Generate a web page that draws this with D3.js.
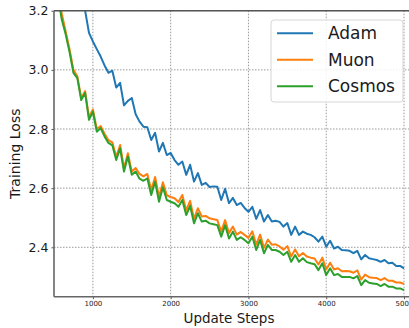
<!DOCTYPE html>
<html>
<head>
<meta charset="utf-8">
<script src="https://cdn.jsdelivr.net/npm/d3@7"></script>
<style>
  html, body { margin: 0; padding: 0; background: #fff; }
  svg { display: block; font-family: "DejaVu Sans", sans-serif; }
</style>
</head>
<body>
<svg id="chart" width="409" height="328"></svg>
<script>
// Training loss vs. update steps, logged every 50 steps from 500 to 5000
const steps = d3.range(500, 5001, 50);

const adam = [
  3.60, 3.52, 3.46, 3.40, 3.35, 3.30, 3.26, 3.23, 3.20, 3.125,
  3.096, 3.07, 3.045, 3.015, 2.99, 2.997, 2.94, 2.956, 2.88, 2.895,
  2.905, 2.85, 2.825, 2.808, 2.806, 2.763, 2.787, 2.724, 2.753, 2.712,
  2.719, 2.695, 2.679, 2.690, 2.645, 2.679, 2.622, 2.651, 2.611, 2.618,
  2.604, 2.606, 2.605, 2.560, 2.598, 2.549, 2.567, 2.543, 2.550, 2.533,
  2.520, 2.537, 2.496, 2.526, 2.487, 2.509, 2.487, 2.490, 2.486, 2.470,
  2.482, 2.442, 2.470, 2.442, 2.453, 2.446, 2.442, 2.434, 2.419, 2.436,
  2.402, 2.422, 2.396, 2.402, 2.391, 2.390, 2.388, 2.380, 2.388, 2.359,
  2.374, 2.363, 2.360, 2.357, 2.351, 2.357, 2.346, 2.348, 2.337, 2.337,
  2.329
];

const muon = [
  3.42, 3.27, 3.19, 3.13, 3.07, 3.00, 2.978, 2.905, 2.928, 2.840,
  2.866, 2.800, 2.810, 2.784, 2.762, 2.755, 2.706, 2.746, 2.667, 2.718,
  2.656, 2.668, 2.648, 2.640, 2.648, 2.594, 2.638, 2.570, 2.620, 2.576,
  2.570, 2.566, 2.553, 2.577, 2.525, 2.557, 2.497, 2.532, 2.504, 2.506,
  2.498, 2.495, 2.492, 2.453, 2.492, 2.448, 2.470, 2.443, 2.452, 2.442,
  2.432, 2.454, 2.409, 2.443, 2.398, 2.426, 2.409, 2.410, 2.403, 2.392,
  2.404, 2.369, 2.393, 2.370, 2.381, 2.369, 2.365, 2.362, 2.342, 2.365,
  2.325, 2.348, 2.325, 2.329, 2.319, 2.320, 2.319, 2.314, 2.322, 2.291,
  2.308, 2.299, 2.297, 2.296, 2.289, 2.296, 2.287, 2.287, 2.281, 2.281,
  2.276
];

const cosmos = [
  3.40, 3.25, 3.17, 3.12, 3.06, 2.99, 2.972, 2.898, 2.922, 2.831,
  2.859, 2.791, 2.803, 2.775, 2.753, 2.745, 2.695, 2.735, 2.656, 2.707,
  2.645, 2.656, 2.632, 2.625, 2.633, 2.577, 2.622, 2.554, 2.603, 2.560,
  2.554, 2.549, 2.537, 2.560, 2.509, 2.540, 2.481, 2.515, 2.487, 2.490,
  2.481, 2.478, 2.475, 2.436, 2.475, 2.430, 2.453, 2.425, 2.434, 2.425,
  2.414, 2.436, 2.391, 2.425, 2.380, 2.408, 2.391, 2.391, 2.385, 2.374,
  2.385, 2.351, 2.374, 2.351, 2.363, 2.350, 2.346, 2.343, 2.323, 2.346,
  2.306, 2.329, 2.306, 2.310, 2.300, 2.300, 2.300, 2.295, 2.303, 2.272,
  2.289, 2.280, 2.278, 2.276, 2.269, 2.276, 2.267, 2.267, 2.261, 2.261,
  2.255
];

const seriesNames = ["Adam", "Muon", "Cosmos"];
const seriesColors = ["#1f77b4", "#ff7f0e", "#2ca02c"];
const xTicks = [1000, 2000, 3000, 4000, 5000];
const yTicks = [2.4, 2.6, 2.8, 3.0, 3.2];

const series = [adam, muon, cosmos].map((vals, i) => ({
  name: seriesNames[i],
  color: seriesColors[i],
  points: steps.map((s, j) => [s, vals[j]])
}));

const svg = d3.select("#chart");
const plotL = 54, plotR = 404, plotT = 10.7, plotB = 296.7;

const x = d3.scaleLinear().domain([500, 5000]).range([plotL, plotR]);
const y = d3.scaleLinear().domain([2.233, 3.2]).range([plotB, plotT]);

svg.append("defs").append("clipPath").attr("id", "plot-clip")
  .append("rect").attr("x", plotL).attr("y", plotT)
  .attr("width", 409 - plotL).attr("height", plotB - plotT);

// dotted grid
const grid = svg.append("g");
grid.selectAll("line.gx").data(xTicks).join("line")
  .attr("x1", d => x(d)).attr("x2", d => x(d))
  .attr("y1", plotT).attr("y2", plotB)
  .attr("stroke", "#9a9a9a").attr("stroke-width", 1)
  .attr("stroke-dasharray", "1.5,1.5");
grid.selectAll("line.gy").data(yTicks).join("line")
  .attr("x1", plotL).attr("x2", 409)
  .attr("y1", d => y(d)).attr("y2", d => y(d))
  .attr("stroke", "#9a9a9a").attr("stroke-width", 1)
  .attr("stroke-dasharray", "1.5,1.5");

// loss curves
const line = d3.line().x(d => x(d[0])).y(d => y(d[1]));
svg.append("g").attr("clip-path", "url(#plot-clip)")
  .selectAll("path").data(series).join("path")
  .attr("d", d => line(d.points))
  .attr("fill", "none")
  .attr("stroke", d => d.color)
  .attr("stroke-width", 2)
  .attr("stroke-linejoin", "round");

// axes
const yAxis = d3.axisLeft(y).tickValues(yTicks).tickFormat(d3.format(".1f"))
  .tickSize(2.5).tickPadding(3);
const gy = svg.append("g").attr("transform", `translate(${plotL},0)`).call(yAxis);
gy.select(".domain").remove();
gy.selectAll(".tick line").attr("stroke", "#555");
gy.selectAll(".tick text").attr("font-size", 12.5).attr("fill", "#1a1a1a")
  .attr("font-family", "DejaVu Sans");

const xAxis = d3.axisBottom(x).tickValues(xTicks).tickFormat(d3.format("d"))
  .tickSize(2.5).tickPadding(2);
const gx = svg.append("g").attr("transform", `translate(0,${plotB})`).call(xAxis);
gx.select(".domain").remove();
gx.selectAll(".tick line").attr("stroke", "#555");
gx.selectAll(".tick text").attr("font-size", 7).attr("fill", "#1a1a1a")
  .attr("font-family", "DejaVu Sans");

// frame
svg.append("line").attr("x1", plotL).attr("x2", 409).attr("y1", plotT).attr("y2", plotT)
  .attr("stroke", "#555").attr("stroke-width", 1.6);
svg.append("line").attr("x1", plotL).attr("x2", 409).attr("y1", plotB).attr("y2", plotB)
  .attr("stroke", "#666").attr("stroke-width", 1.6);
svg.append("line").attr("x1", plotL).attr("x2", plotL).attr("y1", plotT).attr("y2", plotB)
  .attr("stroke", "#666").attr("stroke-width", 1.6);

// axis titles
svg.append("text").attr("x", (plotL + plotR) / 2).attr("y", 323)
  .attr("text-anchor", "middle").attr("font-size", 13.5).attr("fill", "#1a1a1a")
  .text("Update Steps");
svg.append("text")
  .attr("transform", `translate(20,${(plotT + plotB) / 2}) rotate(-90)`)
  .attr("text-anchor", "middle").attr("font-size", 14).attr("fill", "#1a1a1a")
  .text("Training Loss");

// legend
const lg = svg.append("g");
lg.append("rect").attr("x", 271).attr("y", 20).attr("width", 132).attr("height", 82)
  .attr("rx", 3).attr("fill", "#fff").attr("fill-opacity", 0.85)
  .attr("stroke", "#d6d6d6").attr("stroke-width", 1);
const rows = lg.selectAll("g.row").data(series).join("g")
  .attr("transform", (d, i) => `translate(0,${33.3 + i * 26.5})`);
rows.append("line").attr("x1", 277).attr("x2", 313).attr("y1", 0).attr("y2", 0)
  .attr("stroke", d => d.color).attr("stroke-width", 2);
rows.append("text").attr("x", 328).attr("y", 0).attr("dy", "0.36em")
  .attr("font-size", 17).attr("fill", "#1a1a1a").text(d => d.name);
</script>
</body>
</html>
